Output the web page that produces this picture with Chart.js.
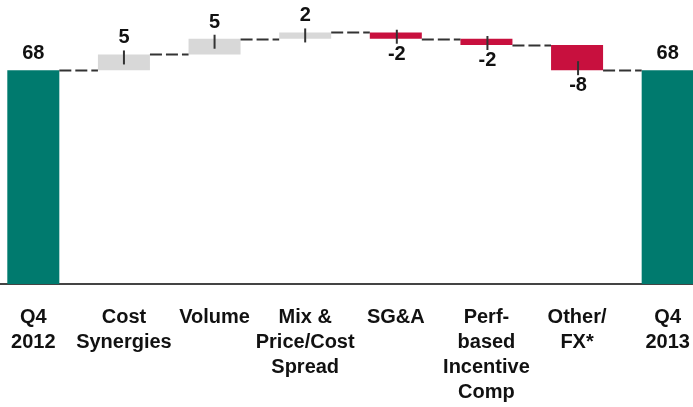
<!DOCTYPE html>
<html>
<head>
<meta charset="utf-8">
<script src="https://cdn.jsdelivr.net/npm/chart.js@4.4.1/dist/chart.umd.min.js"></script>
<style>
  html, body { margin: 0; padding: 0; background: #FFFFFF; overflow: hidden; }
  body { width: 693px; height: 407px; position: relative; }
  #wrap { position: absolute; left: -12px; top: 0; width: 725px; height: 407px; }
</style>
</head>
<body>
<div id="wrap"><canvas id="bridge"></canvas></div>
<script>
const categories = [
  ["Q4", "2012"],
  ["Cost", "Synergies"],
  ["Volume"],
  ["Mix &", "Price/Cost", "Spread"],
  ["SG&A"],
  ["Perf-", "based", "Incentive", "Comp"],
  ["Other/", "FX*"],
  ["Q4", "2013"]
];
const values = [68, 5, 5, 2, -2, -2, -8, 68];
const isTotal = [true, false, false, false, false, false, false, true];
const valueLabels = ["68", "5", "5", "2", "-2", "-2", "-8", "68"];

const COLORS = {
  total: "#007A6E",
  up: "#D8D8D8",
  down: "#C8103E",
  ink: "#111111",
  line: "#333333",
  axis: "#444444"
};

const FONT = '"Liberation Sans", Arial, sans-serif';

// floating ranges [from, to] for each bar, plus the level a connector leaves from
const ranges = [];
const levels = [];
let running = 0;
values.forEach((v, i) => {
  if (isTotal[i]) {
    ranges.push([0, v]);
    running = v;
  } else {
    ranges.push([running, running + v]);
    running += v;
  }
  levels.push(running);
});

const barColors = values.map((v, i) => isTotal[i] ? COLORS.total : (v >= 0 ? COLORS.up : COLORS.down));

const bridgeDecor = {
  id: "bridgeDecor",
  afterDatasetsDraw(chart) {
    const ctx = chart.ctx;
    const meta = chart.getDatasetMeta(0);
    const y = chart.scales.y;

    ctx.save();

    // dashed connectors between bars
    ctx.strokeStyle = COLORS.line;
    ctx.lineWidth = 2;
    ctx.setLineDash([12, 4]);
    for (let i = 0; i < meta.data.length - 1; i++) {
      const a = meta.data[i];
      const b = meta.data[i + 1];
      const py = Math.round(y.getPixelForValue(levels[i])) + 0.5;
      ctx.beginPath();
      ctx.moveTo(a.x + a.width / 2, py);
      ctx.lineTo(b.x - b.width / 2, py);
      ctx.stroke();
    }
    ctx.setLineDash([]);

    // leader ticks and value labels
    ctx.font = "bold 20px " + FONT;
    ctx.textAlign = "center";
    ctx.textBaseline = "alphabetic";
    meta.data.forEach((bar, i) => {
      const top = Math.min(bar.y, bar.base);
      const bottom = Math.max(bar.y, bar.base);
      const neg = !isTotal[i] && values[i] < 0;

      if (!isTotal[i]) {
        ctx.strokeStyle = COLORS.line;
        ctx.lineWidth = 2;
        ctx.beginPath();
        if (neg) {
          ctx.moveTo(bar.x + 1, bottom + 5);
          ctx.lineTo(bar.x + 1, bottom - 9);
        } else {
          ctx.moveTo(bar.x, top - 4);
          ctx.lineTo(bar.x, top + 10);
        }
        ctx.stroke();
      }

      ctx.fillStyle = COLORS.ink;
      if (neg) {
        ctx.fillText(valueLabels[i], bar.x + 1, bottom + 21);
      } else {
        ctx.fillText(valueLabels[i], bar.x, top - 11);
      }
    });

    ctx.restore();
  }
};

new Chart(document.getElementById("bridge"), {
  type: "bar",
  data: {
    labels: categories,
    datasets: [{
      data: ranges,
      backgroundColor: barColors,
      borderWidth: 0,
      borderSkipped: false,
      categoryPercentage: 1,
      barPercentage: 0.574
    }]
  },
  options: {
    responsive: true,
    maintainAspectRatio: false,
    animation: false,
    devicePixelRatio: 1,
    layout: { padding: { top: 1, left: 0, right: 0, bottom: 0 } },
    plugins: {
      legend: { display: false },
      tooltip: { enabled: false }
    },
    scales: {
      x: {
        grid: { display: false, drawTicks: false },
        border: { display: true, color: COLORS.axis, width: 2 },
        ticks: {
          color: COLORS.ink,
          padding: 21,
          maxRotation: 0,
          autoSkip: false,
          font: { family: FONT, size: 20, weight: "bold", lineHeight: 1.25 }
        },
        afterFit(scale) { scale.height = 123; }
      },
      y: {
        display: false,
        min: 0,
        max: 90
      }
    }
  },
  plugins: [bridgeDecor]
});
</script>
</body>
</html>
